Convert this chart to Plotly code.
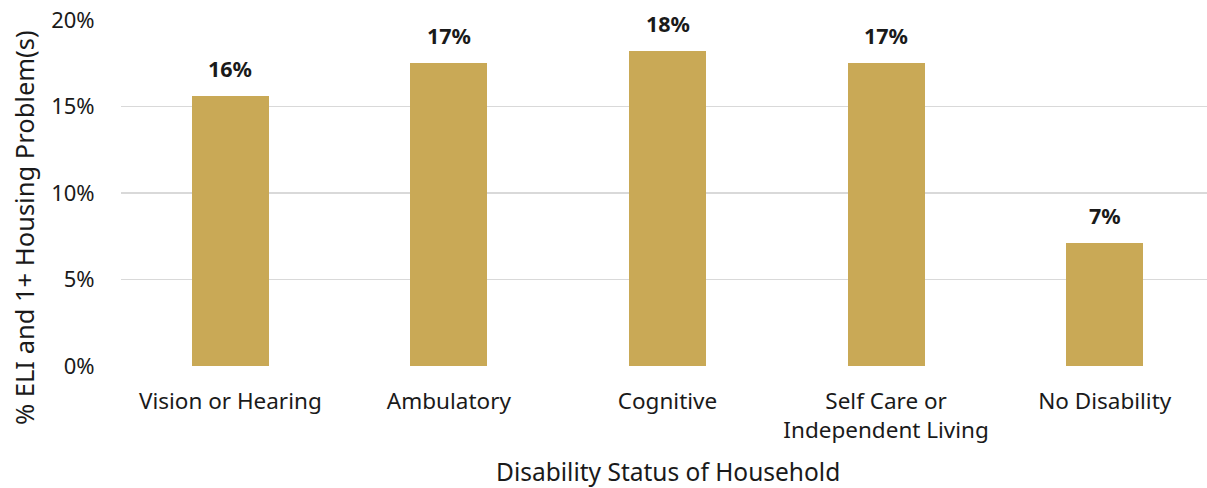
import plotly.graph_objects as go

categories = ["Vision or Hearing", "Ambulatory", "Cognitive", "Self Care or<br>Independent Living", "No Disability"]
values = [0.156, 0.175, 0.182, 0.175, 0.071]
labels = ["16%", "17%", "18%", "17%", "7%"]
y_ticks = [0, 0.05, 0.10, 0.15, 0.20]
y_tick_labels = ["0%", "5%", "10%", "15%", "20%"]

FONT = "Noto Sans"
BAR = "#C9A956"
TXT = "#1a1a1a"

W, H = 1207, 488
L, T = 121, 20
PW, PH = W - L, 346
B = H - T - PH

fig = go.Figure()
fig.add_trace(go.Bar(
    x=list(range(len(categories))), y=values,
    marker=dict(color=BAR, line=dict(width=0)),
    width=0.352, hoverinfo="skip",
))

for i, (v, t) in enumerate(zip(values, labels)):
    fig.add_annotation(x=i, y=v, text="<b>" + t + "</b>", showarrow=False,
                       yanchor="bottom", yshift=11,
                       font=dict(family=FONT, size=21.5, color=TXT))

fig.add_annotation(text="Disability Status of Household", xref="paper", yref="paper",
                   x=(668 - L) / PW, y=-(471 - (T + PH)) / PH, showarrow=False,
                   xanchor="center", yanchor="middle",
                   font=dict(family=FONT, size=24.5, color=TXT))
fig.add_annotation(text="% ELI and 1+ Housing Problem(s)", xref="paper", yref="paper",
                   x=-(L - 24) / PW, y=((T + PH) - 228) / PH, showarrow=False, textangle=-90,
                   xanchor="center", yanchor="middle",
                   font=dict(family=FONT, size=25.5, color=TXT))

fig.update_layout(
    width=W, height=H,
    margin=dict(l=L, r=0, t=T, b=B, pad=0),
    plot_bgcolor="white", paper_bgcolor="white",
    showlegend=False, bargap=0,
    font=dict(family=FONT, size=22, color=TXT),
)
fig.update_xaxes(
    tickmode="array", tickvals=list(range(len(categories))), ticktext=categories,
    range=[-0.5, 4.468], showgrid=False, zeroline=False, showline=False,
    ticks="outside", ticklen=15, tickcolor="rgba(0,0,0,0)",
    tickfont=dict(family=FONT, size=22.5, color=TXT),
)
fig.update_yaxes(
    range=[0, 0.2], tickmode="array", tickvals=y_ticks, ticktext=y_tick_labels,
    showgrid=True, gridcolor="#d9d9d9", gridwidth=1.5, zeroline=False, showline=False,
    ticks="outside", ticklen=21, tickcolor="rgba(0,0,0,0)",
    tickfont=dict(family=FONT, size=22, color=TXT),
)

# remove the browser's default 8px body margin so the figure fills the window
fig.write_html("out.html", config={"displayModeBar": False, "staticPlot": True},
               post_script="document.body.style.margin='0';")
